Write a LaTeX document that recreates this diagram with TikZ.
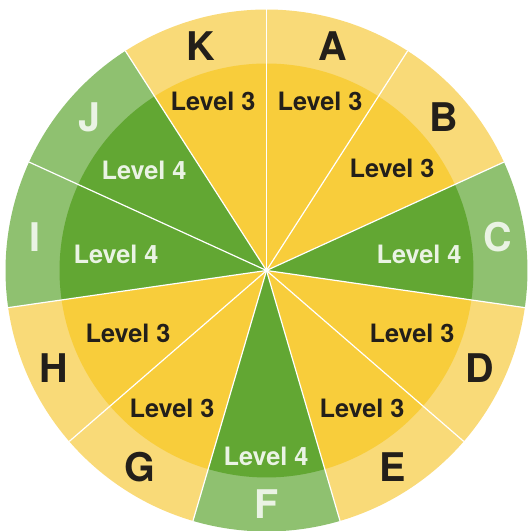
\documentclass[tikz,border=0pt]{standalone}
\usepackage{fontspec}
\setmainfont{TeX Gyre Heros}
\usetikzlibrary{calc}
\definecolor{yin}{HTML}{F8CD3B}
\definecolor{yout}{HTML}{F9DA78}
\definecolor{gin}{HTML}{62A733}
\definecolor{gout}{HTML}{8FC170}
\definecolor{dtext}{HTML}{231F1A}
\definecolor{ltext}{HTML}{EAF3E4}
\tikzset{
  letter/.style={font=\fontsize{39.5}{40}\selectfont\bfseries, inner sep=0pt},
  lvl/.style={font=\fontsize{25.3}{26}\selectfont\bfseries, inner sep=0pt},
  sep/.style={draw=white, line width=1.2pt}
}
\begin{document}
\begin{tikzpicture}[x=1pt,y=1pt]
\useasboundingbox (0,0) rectangle (528,531);
\coordinate (O) at (266.5,260.5);
\def\R{261}
\def\r{207}
\def\d{32.72727}
% sectors: index/inner colour/outer colour/letter/text colour/level/label x/label y
\foreach \i/\ci/\co/\L/\tc/\lv/\lx/\ly in {
  0/yin/yout/A/dtext/3/320/101,
  1/yin/yout/B/dtext/3/392/168,
  2/gin/gout/C/ltext/4/419/254,
  3/yin/yout/D/dtext/3/412/333,
  4/yin/yout/E/dtext/3/362/408,
  5/gin/gout/F/ltext/4/266/456,
  6/yin/yout/G/dtext/3/172/408,
  7/yin/yout/H/dtext/3/128/333,
  8/gin/gout/I/ltext/4/116/254,
  9/gin/gout/J/ltext/4/144/170,
  10/yin/yout/K/dtext/3/213/101}{
  \pgfmathsetmacro\aa{90-\i*\d}
  \pgfmathsetmacro\ab{90-(\i+1)*\d}
  \pgfmathsetmacro\am{90-(\i+0.5)*\d}
  \fill[\co] (O) -- ++(\aa:\R) arc[start angle=\aa, end angle=\ab, radius=\R] -- cycle;
  \fill[\ci] (O) -- ++(\aa:\r) arc[start angle=\aa, end angle=\ab, radius=\r] -- cycle;
  \node[letter, text=\tc] (let\L) at ($(O)+(\am:234)$) {\L};
  \node[lvl, text=\tc] (lvl\L) at (\lx,531-\ly) {Level \lv};
}
\foreach \i in {0,...,10}{
  \pgfmathsetmacro\aa{90-\i*\d}
  \coordinate (rim\i) at ($(O)+(\aa:\R)$);
  \draw[sep] (O) -- (rim\i);
}
\end{tikzpicture}
\end{document}
